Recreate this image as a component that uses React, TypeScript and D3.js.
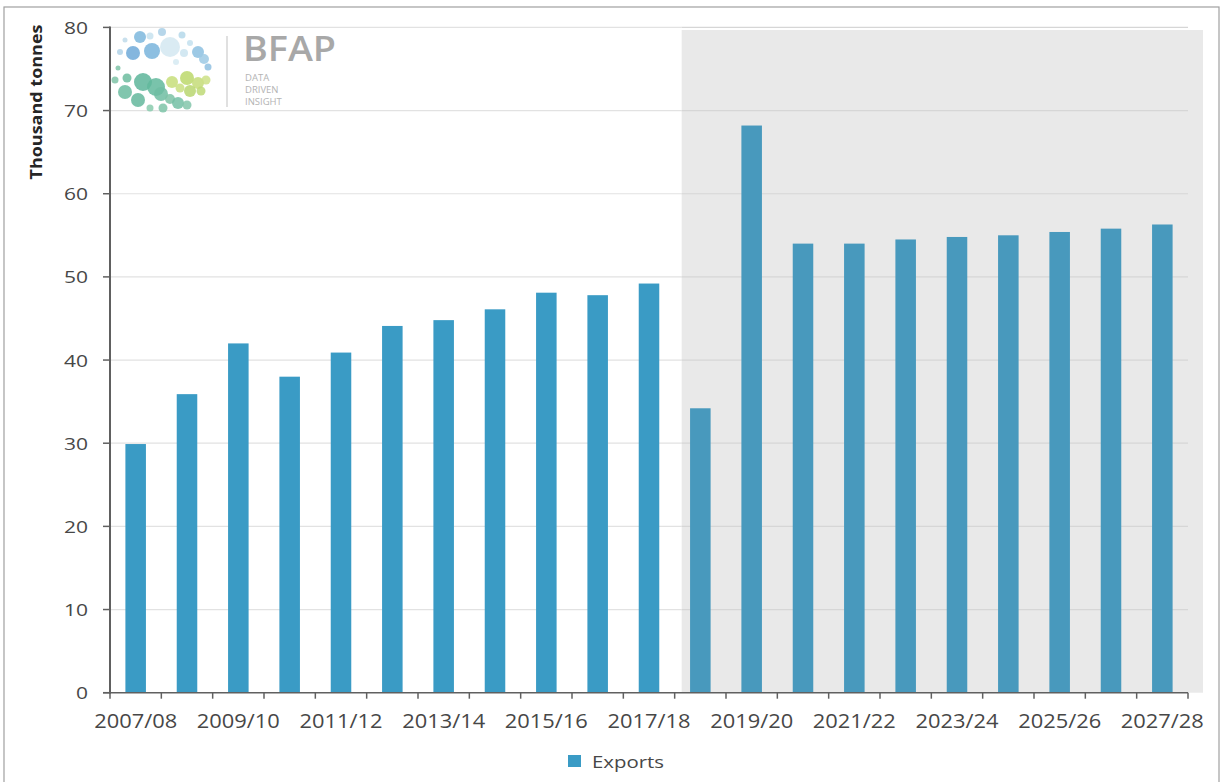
import React from "react";
import * as d3 from "d3";

const categories = [
  "2007/08", "2008/09", "2009/10", "2010/11", "2011/12", "2012/13", "2013/14",
  "2014/15", "2015/16", "2016/17", "2017/18", "2018/19", "2019/20", "2020/21",
  "2021/22", "2022/23", "2023/24", "2024/25", "2025/26", "2026/27", "2027/28",
];
const exportsValues = [
  29.9, 35.9, 42.0, 38.0, 40.9, 44.1, 44.8, 46.1, 48.1, 47.8, 49.2,
  34.2, 68.2, 54.0, 54.0, 54.5, 54.8, 55.0, 55.4, 55.8, 56.3,
];
const yTicks = [0, 10, 20, 30, 40, 50, 60, 70, 80];
const xLabelEvery = 2;
const projectionStart = "2018/19";
const seriesName = "Exports";
const yTitle = "Thousand tonnes";
const logoWords = ["DATA", "DRIVEN", "INSIGHT"];

// decorative logo dots [cx, cy, r, color]
const LOGO_DOTS: [number, number, number, string][] = [
  [140, 37, 6, "#7db7dd"], [133, 53, 7, "#6fa9d8"], [152, 51, 8, "#79b4dc"],
  [170, 47, 10, "#d3e8f1"], [162, 32, 4, "#a9cfe6"], [182, 35, 3.5, "#b5d8ea"],
  [198, 52, 6, "#8cc0e0"], [204, 59, 5, "#9cc9e4"], [208, 67, 3.5, "#8fbfe0"],
  [120, 52, 3, "#b0d2e8"], [190, 43, 3, "#c3e0ee"], [150, 36, 3.5, "#c7e2ef"],
  [184, 53, 4, "#cbe4f0"], [125, 40, 2.5, "#c0dbea"], [176, 62, 3, "#d6eaf2"],
  [127, 78, 4.5, "#6dbc9f"], [143, 82, 9, "#5db59a"], [156, 87, 9, "#62b89c"],
  [125, 92, 7, "#6bbca0"], [138, 100, 7, "#64b79c"], [161, 94, 7, "#6fbda2"],
  [170, 99, 5, "#7cc2a6"], [178, 103, 6, "#73bfa4"], [187, 105, 4.5, "#82c6aa"],
  [150, 108, 3.5, "#8acbae"], [163, 108, 4.5, "#7ec4a8"], [115, 80, 3.5, "#7fc3a7"],
  [172, 82, 6, "#c7de7a"], [187, 78, 7, "#bcd86b"], [198, 83, 6, "#c4dc78"],
  [206, 80, 4.5, "#cde186"], [190, 91, 6, "#b8d670"], [180, 88, 4.5, "#c9df80"],
  [201, 91, 4.5, "#bed977"], [118, 68, 2.5, "#7fc3a7"],
];

const W = 1226;
const H = 782;
const left = 110;
const right = 1188;
const top = 27.4;
const bottom = 692.7;

const FONT = "'Open Sans', 'Noto Sans', sans-serif";
const TEXT = "#474747";

export default function App() {
  const x = d3
    .scaleBand<string>()
    .domain(categories)
    .range([left, right])
    .paddingInner(0.6)
    .paddingOuter(0.3);
  const xCat = d3.scaleBand<string>().domain(categories).range([left, right]).padding(0);
  const y = d3.scaleLinear().domain([0, 80]).range([bottom, top]);

  const step = xCat.step();
  const boundaries = d3.range(categories.length + 1).map((i) => left + i * step);
  const projIdx = categories.indexOf(projectionStart);
  const shadeX = (xCat(projectionStart) as number) + 7;
  const shadeRight = right + 15;

  return (
    <svg
      width={W}
      height={H}
      style={{ position: "absolute", left: 0, top: 0, display: "block", background: "#fff" }}
    >
      <rect x={4} y={7} width={1215} height={790} fill="#fff" stroke="#a0a0a0" strokeWidth={1.2} />

      {/* projection shading */}
      <rect x={shadeX} y={30} width={shadeRight - shadeX} height={bottom - 30} fill="#e9e9e9" />

      {/* gridlines */}
      {yTicks.slice(1).map((t) => (
        <g key={"g" + t}>
          <line x1={left} x2={shadeX} y1={y(t)} y2={y(t)} stroke="#e2e2e2" strokeWidth={1.2} />
          <line x1={shadeX} x2={right} y1={y(t)} y2={y(t)} stroke="#d6d6d6" strokeWidth={1.2} />
        </g>
      ))}

      {/* logo */}
      <g>
        {LOGO_DOTS.map((d, i) => (
          <circle key={i} cx={d[0]} cy={d[1]} r={d[2]} fill={d[3]} opacity={0.85} />
        ))}
        <line x1={227} x2={227} y1={36} y2={107} stroke="#d6d6d6" strokeWidth={1.5} />
        <text x={243} y={61} fontFamily={FONT} fontWeight={600} fontSize={35} fill="#a8a8a8" textLength={93} lengthAdjust="spacingAndGlyphs">
          BFAP
        </text>
        {logoWords.map((s, i) => (
          <text key={s} x={245} y={81 + i * 12} fontFamily={FONT} fontSize={9.5} fill="#b4b4b4">
            {s}
          </text>
        ))}
      </g>

      {/* bars */}
      {categories.map((c, i) => (
        <rect
          key={c}
          x={x(c)}
          y={y(exportsValues[i])}
          width={x.bandwidth()}
          height={bottom - y(exportsValues[i])}
          fill={i >= projIdx ? "#4899bd" : "#3a9bc5"}
        />
      ))}

      {/* y axis */}
      <line x1={left} x2={left} y1={top - 1} y2={bottom + 1} stroke="#606060" strokeWidth={2} />
      {yTicks.map((t) => (
        <g key={"y" + t}>
          <line x1={left - 7} x2={left} y1={y(t)} y2={y(t)} stroke="#606060" strokeWidth={1.5} />
          <text
            x={88}
            y={y(t) + 6.5}
            textAnchor="end"
            fontFamily={FONT}
            fontWeight={500}
            fontSize={16}
            fill={TEXT}
            textLength={String(t).length * 12}
            lengthAdjust="spacingAndGlyphs"
          >
            {t}
          </text>
        </g>
      ))}

      {/* x axis */}
      <line x1={left - 7} x2={right} y1={bottom} y2={bottom} stroke="#606060" strokeWidth={1.5} />
      {boundaries.map((b, i) => (
        <line key={"t" + i} x1={b} x2={b} y1={bottom} y2={bottom + 6} stroke="#606060" strokeWidth={1.5} />
      ))}
      {categories.map((c, i) =>
        i % xLabelEvery === 0 ? (
          <text
            key={"l" + c}
            x={(xCat(c) as number) + step / 2}
            y={728}
            textAnchor="middle"
            fontFamily={FONT}
            fontWeight={500}
            fontSize={19.5}
            fill={TEXT}
            textLength={83}
            lengthAdjust="spacingAndGlyphs"
          >
            {c}
          </text>
        ) : null
      )}

      {/* y title */}
      <text
        transform={`translate(42, 102) rotate(-90)`}
        textAnchor="middle"
        fontFamily={FONT}
        fontWeight="bold"
        fontSize={16.5}
        fill="#262626"
        textLength={155}
        lengthAdjust="spacingAndGlyphs"
      >
        {yTitle}
      </text>

      {/* legend */}
      <rect x={568} y={755} width={13} height={12} fill="#3a9bc5" />
      <text x={592} y={767.5} fontFamily={FONT} fontWeight={500} fontSize={16.5} fill={TEXT} textLength={72} lengthAdjust="spacingAndGlyphs">
        {seriesName}
      </text>
    </svg>
  );
}
